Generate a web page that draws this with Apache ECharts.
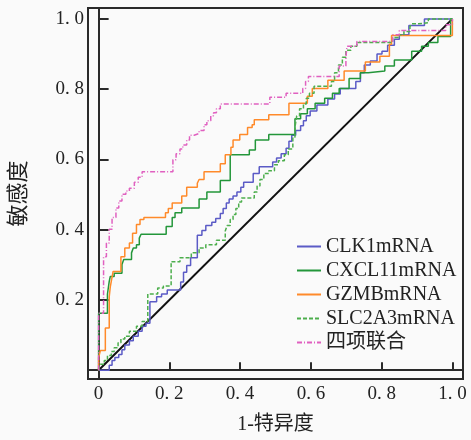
<!DOCTYPE html>
<html>
<head>
<meta charset="utf-8">
<script src="https://cdn.jsdelivr.net/npm/echarts@6.0.0/dist/echarts.min.js"></script>
<style>
html, body { margin: 0; padding: 0; background: #fafafa; }
#main { width: 471px; height: 440px; }
</style>
</head>
<body>
<div id="main"></div>
<script>
// ROC curves, points are [1-特异度, 敏感度]; drawn as step lines (rise first, then run)
const seriesNames = ['CLK1mRNA', 'CXCL11mRNA', 'GZMBmRNA', 'SLC2A3mRNA', '四项联合'];
const tickValues = [0, 0.2, 0.4, 0.6, 0.8, 1.0];
const diagonal = [[0, 0], [1, 1]];

const clk1 = [
    [0, 0], [0.030, 0], [0.038, 0.014], [0.046, 0.028], [0.057, 0.036], [0.066, 0.045],
    [0.074, 0.058], [0.087, 0.072], [0.098, 0.084], [0.112, 0.097], [0.123, 0.111],
    [0.134, 0.125], [0.145, 0.134], [0.164, 0.195], [0.178, 0.209], [0.194, 0.217],
    [0.232, 0.228], [0.240, 0.251], [0.249, 0.279], [0.260, 0.298], [0.279, 0.320],
    [0.292, 0.384], [0.303, 0.398], [0.320, 0.412], [0.331, 0.421], [0.344, 0.432],
    [0.352, 0.446], [0.361, 0.460], [0.369, 0.476], [0.380, 0.487], [0.391, 0.496],
    [0.402, 0.507], [0.410, 0.521], [0.437, 0.535], [0.454, 0.560], [0.492, 0.579],
    [0.503, 0.593], [0.516, 0.604], [0.530, 0.616], [0.538, 0.632], [0.546, 0.652],
    [0.557, 0.669], [0.571, 0.682], [0.579, 0.696], [0.587, 0.710], [0.598, 0.724],
    [0.617, 0.738], [0.648, 0.755], [0.667, 0.772], [0.683, 0.786], [0.727, 0.802],
    [0.740, 0.822], [0.751, 0.847], [0.768, 0.869], [0.787, 0.880], [0.801, 0.900],
    [0.817, 0.908], [0.836, 0.925], [0.850, 0.942], [0.877, 0.955], [0.921, 0.981],
    [1, 1]
];

const cxcl11 = [
    [0, 0], [0.025, 0.162], [0.030, 0.217], [0.033, 0.253], [0.044, 0.267], [0.066, 0.276],
    [0.071, 0.301], [0.093, 0.315], [0.098, 0.334], [0.107, 0.348], [0.115, 0.357],
    [0.120, 0.376], [0.191, 0.387], [0.208, 0.409], [0.216, 0.435], [0.235, 0.448],
    [0.284, 0.462], [0.306, 0.487], [0.344, 0.507], [0.372, 0.540], [0.426, 0.613],
    [0.443, 0.627], [0.481, 0.655], [0.555, 0.671], [0.571, 0.716], [0.590, 0.730],
    [0.612, 0.744], [0.639, 0.760], [0.661, 0.774], [0.680, 0.788], [0.708, 0.802],
    [0.740, 0.830], [0.762, 0.847], [0.809, 0.852], [0.836, 0.866], [0.885, 0.883],
    [0.913, 0.908], [0.932, 0.922], [0.959, 0.933], [0.995, 0.950], [1, 1]
];

const gzmb = [
    [0, 0], [0.005, 0.036], [0.019, 0.056], [0.030, 0.120], [0.033, 0.209], [0.038, 0.237],
    [0.041, 0.265], [0.063, 0.281], [0.074, 0.323], [0.087, 0.348], [0.096, 0.362],
    [0.107, 0.390], [0.117, 0.415], [0.128, 0.429], [0.189, 0.435], [0.197, 0.448],
    [0.208, 0.460], [0.235, 0.476], [0.249, 0.496], [0.279, 0.521], [0.284, 0.532],
    [0.298, 0.543], [0.344, 0.565], [0.358, 0.588], [0.374, 0.613], [0.380, 0.635],
    [0.399, 0.655], [0.421, 0.671], [0.434, 0.691], [0.440, 0.699], [0.481, 0.713],
    [0.538, 0.727], [0.590, 0.760], [0.604, 0.780], [0.648, 0.802], [0.694, 0.825],
    [0.754, 0.852], [0.795, 0.877], [0.822, 0.894], [0.828, 0.928], [1, 0.953], [1, 1]
];

const slc2a3 = [
    [0, 0], [0.005, 0.006], [0.016, 0.017], [0.025, 0.028], [0.036, 0.042], [0.044, 0.053],
    [0.055, 0.064], [0.063, 0.078], [0.074, 0.089], [0.087, 0.097], [0.107, 0.111],
    [0.123, 0.125], [0.139, 0.139], [0.167, 0.217], [0.183, 0.234], [0.205, 0.240],
    [0.230, 0.309], [0.262, 0.320], [0.284, 0.334], [0.303, 0.348], [0.333, 0.357],
    [0.358, 0.370], [0.363, 0.396], [0.372, 0.412], [0.380, 0.429], [0.388, 0.443],
    [0.396, 0.460], [0.404, 0.479], [0.440, 0.490], [0.448, 0.507], [0.456, 0.524],
    [0.467, 0.543], [0.481, 0.560], [0.497, 0.568], [0.508, 0.585], [0.525, 0.596],
    [0.536, 0.613], [0.549, 0.630], [0.555, 0.663], [0.560, 0.691], [0.568, 0.724],
    [0.579, 0.744], [0.587, 0.758], [0.596, 0.774], [0.609, 0.788], [0.658, 0.808],
    [0.667, 0.822], [0.678, 0.847], [0.689, 0.869], [0.699, 0.891], [0.713, 0.911],
    [0.730, 0.922], [0.831, 0.933], [0.847, 0.947], [0.863, 0.955], [0.880, 0.964],
    [0.885, 0.978], [0.904, 0.986], [0.932, 0.989], [1, 1]
];

const combined = [
    [0, 0], [0.014, 0.162], [0.022, 0.323], [0.030, 0.362], [0.038, 0.401], [0.049, 0.435],
    [0.057, 0.462], [0.066, 0.482], [0.077, 0.501], [0.087, 0.510], [0.101, 0.518],
    [0.112, 0.535], [0.123, 0.549], [0.210, 0.565], [0.219, 0.599], [0.230, 0.616],
    [0.238, 0.630], [0.249, 0.641], [0.257, 0.655], [0.270, 0.669], [0.284, 0.674],
    [0.298, 0.682], [0.306, 0.699], [0.317, 0.710], [0.325, 0.724], [0.333, 0.733],
    [0.344, 0.744], [0.484, 0.758], [0.530, 0.777], [0.577, 0.788], [0.585, 0.802],
    [0.593, 0.822], [0.680, 0.836], [0.699, 0.866], [0.702, 0.891], [0.730, 0.922],
    [0.831, 0.936], [0.850, 0.955], [0.981, 0.967], [1, 0.983], [1, 1]
];

const FONT = "'Liberation Serif', 'Noto Sans CJK SC', serif";

const chart = echarts.init(document.getElementById('main'));

const rocLine = (name, data, color, type) => ({
    name: name,
    type: 'line',
    step: 'start',
    data: data,
    symbol: 'none',
    lineStyle: { color: color, width: 1.5, type: type },
    itemStyle: { color: color },
    z: 3
});

const labelFmt = (v) => (v === 0 ? '0' : v.toFixed(1).replace('.', '. '));

chart.setOption({
    backgroundColor: '#fafafa',
    animation: false,
    grid: {
        left: 75, right: 8, top: 8, bottom: 53,
        show: true, borderColor: '#2a2a2a', borderWidth: 2
    },
    legend: {
        orient: 'vertical',
        left: 296,
        top: 236,
        padding: 0,
        itemWidth: 24,
        itemHeight: 14,
        itemGap: 3,
        itemStyle: { opacity: 0 },
        data: seriesNames,
        textStyle: { fontFamily: FONT, fontSize: 20, color: '#222', lineHeight: 21 }
    },
    xAxis: {
        type: 'value',
        min: -0.03,
        max: 1.03,
        name: '1-特异度',
        nameLocation: 'middle',
        nameGap: 36,
        nameTextStyle: { fontFamily: FONT, fontSize: 20, color: '#222' },
        axisLine: { lineStyle: { color: '#2a2a2a', width: 2 } },
        axisTick: { inside: true, length: 8, customValues: tickValues, lineStyle: { color: '#2a2a2a', width: 2 } },
        axisLabel: { customValues: tickValues, formatter: labelFmt, fontFamily: FONT, fontSize: 19, color: '#222', margin: 6 },
        splitLine: { show: false }
    },
    yAxis: {
        type: 'value',
        min: -0.025,
        max: 1.031,
        name: '敏感度',
        nameLocation: 'middle',
        nameGap: 58,
        nameRotate: 90,
        nameTextStyle: { fontFamily: FONT, fontSize: 22, color: '#222' },
        axisLine: { lineStyle: { color: '#2a2a2a', width: 2 } },
        axisTick: { inside: true, length: 10, customValues: tickValues, lineStyle: { color: '#2a2a2a', width: 2 } },
        axisLabel: {
            customValues: tickValues,
            formatter: (v) => (v === 0 ? '' : labelFmt(v)),
            fontFamily: FONT, fontSize: 19, color: '#222', margin: 4
        },
        splitLine: { show: false }
    },
    series: [
        {
            type: 'line',
            data: diagonal,
            symbol: 'none',
            silent: true,
            lineStyle: { color: '#111', width: 2 },
            z: 2
        },
        rocLine(seriesNames[0], clk1, '#5b5bc6', 'solid'),
        rocLine(seriesNames[1], cxcl11, '#23963a', 'solid'),
        rocLine(seriesNames[2], gzmb, '#ff8a2a', 'solid'),
        rocLine(seriesNames[3], slc2a3, '#4cae4c', [4, 2]),
        rocLine(seriesNames[4], combined, '#e060c0', [5, 2, 1, 2])
    ]
});
</script>
</body>
</html>
